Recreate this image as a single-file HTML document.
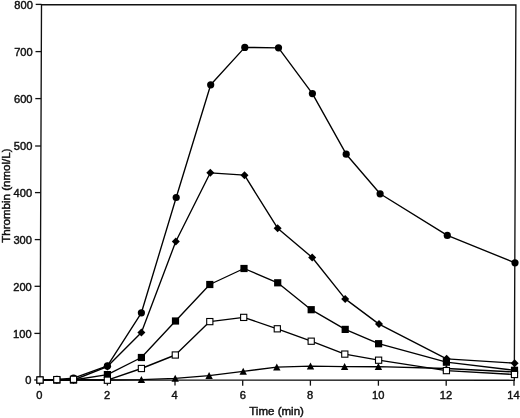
<!DOCTYPE html>
<html><head><meta charset="utf-8"><style>
html,body{margin:0;padding:0;background:#fff;}
body{width:520px;height:418px;overflow:hidden;}
svg{display:block;will-change:transform;}
text{font-family:"Liberation Sans",sans-serif;fill:#111;stroke:#111;stroke-width:0.45px;}
.tk{font-size:11.7px;}
.tt{font-size:11.55px;}
</style></head><body>
<svg width="520" height="418" viewBox="0 0 520 418">
<rect x="0" y="0" width="520" height="418" fill="#fff"/>
<path d="M41.5,4.6 L515.9,5.0 L514.3,380.3 L40.0,380.0 Z" fill="none" stroke="#111" stroke-width="1.35" stroke-linejoin="miter"/>
<line x1="34.20" y1="380.0" x2="40.00" y2="380.0" stroke="#111" stroke-width="1.3"/>
<text class="tk" transform="translate(31.40,384.35) scale(0.95,1)" text-anchor="end">0</text>
<line x1="34.39" y1="333.4" x2="40.19" y2="333.4" stroke="#111" stroke-width="1.3"/>
<text class="tk" transform="translate(31.59,337.75) scale(0.95,1)" text-anchor="end">100</text>
<line x1="34.57" y1="286.3" x2="40.37" y2="286.3" stroke="#111" stroke-width="1.3"/>
<text class="tk" transform="translate(31.77,290.65) scale(0.95,1)" text-anchor="end">200</text>
<line x1="34.76" y1="239.6" x2="40.56" y2="239.6" stroke="#111" stroke-width="1.3"/>
<text class="tk" transform="translate(31.96,243.95) scale(0.95,1)" text-anchor="end">300</text>
<line x1="34.95" y1="192.6" x2="40.75" y2="192.6" stroke="#111" stroke-width="1.3"/>
<text class="tk" transform="translate(32.15,196.95) scale(0.95,1)" text-anchor="end">400</text>
<line x1="35.14" y1="146.0" x2="40.94" y2="146.0" stroke="#111" stroke-width="1.3"/>
<text class="tk" transform="translate(32.34,150.35) scale(0.95,1)" text-anchor="end">500</text>
<line x1="35.32" y1="98.6" x2="41.12" y2="98.6" stroke="#111" stroke-width="1.3"/>
<text class="tk" transform="translate(32.52,102.95) scale(0.95,1)" text-anchor="end">600</text>
<line x1="35.51" y1="51.6" x2="41.31" y2="51.6" stroke="#111" stroke-width="1.3"/>
<text class="tk" transform="translate(32.71,55.95) scale(0.95,1)" text-anchor="end">700</text>
<line x1="35.70" y1="4.4" x2="41.50" y2="4.4" stroke="#111" stroke-width="1.3"/>
<text class="tk" transform="translate(32.90,8.75) scale(0.95,1)" text-anchor="end">800</text>
<line x1="39.6" y1="380.00" x2="39.6" y2="385.50" stroke="#111" stroke-width="1.3"/>
<text class="tk" transform="translate(39.4,398.9) scale(0.95,1)" text-anchor="middle">0</text>
<line x1="107.4" y1="380.04" x2="107.4" y2="385.54" stroke="#111" stroke-width="1.3"/>
<text class="tk" transform="translate(107.0,398.9) scale(0.95,1)" text-anchor="middle">2</text>
<line x1="175" y1="380.09" x2="175" y2="385.59" stroke="#111" stroke-width="1.3"/>
<text class="tk" transform="translate(174.7,398.9) scale(0.95,1)" text-anchor="middle">4</text>
<line x1="242.7" y1="380.13" x2="242.7" y2="385.63" stroke="#111" stroke-width="1.3"/>
<text class="tk" transform="translate(242.8,398.9) scale(0.95,1)" text-anchor="middle">6</text>
<line x1="310.4" y1="380.17" x2="310.4" y2="385.67" stroke="#111" stroke-width="1.3"/>
<text class="tk" transform="translate(310.1,398.9) scale(0.95,1)" text-anchor="middle">8</text>
<line x1="378.4" y1="380.21" x2="378.4" y2="385.71" stroke="#111" stroke-width="1.3"/>
<text class="tk" transform="translate(378.2,398.9) scale(0.95,1)" text-anchor="middle">10</text>
<line x1="446.2" y1="380.26" x2="446.2" y2="385.76" stroke="#111" stroke-width="1.3"/>
<text class="tk" transform="translate(446.0,398.9) scale(0.95,1)" text-anchor="middle">12</text>
<line x1="514.0" y1="380.30" x2="514.0" y2="385.80" stroke="#111" stroke-width="1.3"/>
<text class="tk" transform="translate(513.4,398.9) scale(0.95,1)" text-anchor="middle">14</text>
<text class="tt" x="276.6" y="414.7" text-anchor="middle">Time (min)</text>
<text transform="translate(9.9,195.6) rotate(-90)" class="tt" text-anchor="middle">Thrombin (nmol/L)</text>
<polyline points="40.0,380.0 56.9,379.4 73.5,378.1 107.4,365.9 141.4,312.8 176.2,197.5 210.7,84.8 244.8,47.4 278.5,47.8 312.4,93.6 346.2,154.2 380.1,193.8 447.3,235.4 515.0,262.8" fill="none" stroke="#000" stroke-width="1.35" stroke-linejoin="round"/>
<polyline points="40.0,380.0 56.8,380.0 73.5,380.0 107.4,366.6 141.4,332.4 175.8,241.5 210.3,172.8 244.5,175.2 277.6,228.2 312.2,257.5 345.2,298.9 379.0,324.1 446.6,358.8 514.6,363.2" fill="none" stroke="#000" stroke-width="1.35" stroke-linejoin="round"/>
<polyline points="40.0,380.0 56.8,380.0 73.5,380.0 107.4,374.6 141.4,357.5 175.5,321.0 209.8,284.5 244.0,268.5 277.7,282.8 311.2,309.7 345.2,329.4 378.6,343.7 446.4,362.2 514.5,370.3" fill="none" stroke="#000" stroke-width="1.35" stroke-linejoin="round"/>
<polyline points="40.0,380.0 56.8,379.6 73.5,379.3 107.4,380.2 141.4,368.5 175.3,355.0 209.8,321.6 243.7,317.4 277.3,328.8 311.2,341.2 344.8,354.1 378.6,360.2 446.4,370.6 514.5,374.5" fill="none" stroke="#000" stroke-width="1.35" stroke-linejoin="round"/>
<polyline points="40.0,380.0 56.8,380.0 73.5,380.0 107.4,380.0 141.4,379.6 175.2,378.4 209.1,375.7 243.2,371.4 276.8,367.2 310.5,366.2 344.6,366.7 378.4,366.7 446.4,368.5 514.5,372.0" fill="none" stroke="#000" stroke-width="1.35" stroke-linejoin="round"/>
<circle cx="40" cy="380" r="3.6" fill="#000"/>
<circle cx="56.9" cy="379.4" r="3.6" fill="#000"/>
<circle cx="73.5" cy="378.1" r="3.6" fill="#000"/>
<circle cx="107.4" cy="365.9" r="3.6" fill="#000"/>
<circle cx="141.4" cy="312.8" r="3.6" fill="#000"/>
<circle cx="176.2" cy="197.5" r="3.6" fill="#000"/>
<circle cx="210.7" cy="84.8" r="3.6" fill="#000"/>
<circle cx="244.8" cy="47.4" r="3.6" fill="#000"/>
<circle cx="278.5" cy="47.8" r="3.6" fill="#000"/>
<circle cx="312.4" cy="93.6" r="3.6" fill="#000"/>
<circle cx="346.2" cy="154.2" r="3.6" fill="#000"/>
<circle cx="380.1" cy="193.8" r="3.6" fill="#000"/>
<circle cx="447.3" cy="235.4" r="3.6" fill="#000"/>
<circle cx="515" cy="262.8" r="3.6" fill="#000"/>
<path d="M40,376.0 L44.0,380 L40,384.0 L36.0,380 Z" fill="#000"/>
<path d="M56.8,376.0 L60.8,380 L56.8,384.0 L52.8,380 Z" fill="#000"/>
<path d="M73.5,376.0 L77.5,380 L73.5,384.0 L69.5,380 Z" fill="#000"/>
<path d="M107.4,362.6 L111.4,366.6 L107.4,370.6 L103.4,366.6 Z" fill="#000"/>
<path d="M141.4,328.4 L145.4,332.4 L141.4,336.4 L137.4,332.4 Z" fill="#000"/>
<path d="M175.8,237.5 L179.8,241.5 L175.8,245.5 L171.8,241.5 Z" fill="#000"/>
<path d="M210.3,168.8 L214.3,172.8 L210.3,176.8 L206.3,172.8 Z" fill="#000"/>
<path d="M244.5,171.2 L248.5,175.2 L244.5,179.2 L240.5,175.2 Z" fill="#000"/>
<path d="M277.6,224.2 L281.6,228.2 L277.6,232.2 L273.6,228.2 Z" fill="#000"/>
<path d="M312.2,253.5 L316.2,257.5 L312.2,261.5 L308.2,257.5 Z" fill="#000"/>
<path d="M345.2,294.9 L349.2,298.9 L345.2,302.9 L341.2,298.9 Z" fill="#000"/>
<path d="M379,320.1 L383.0,324.1 L379,328.1 L375.0,324.1 Z" fill="#000"/>
<path d="M446.6,354.8 L450.6,358.8 L446.6,362.8 L442.6,358.8 Z" fill="#000"/>
<path d="M514.6,359.2 L518.6,363.2 L514.6,367.2 L510.6,363.2 Z" fill="#000"/>
<rect x="36.4" y="376.4" width="7.2" height="7.2" fill="#000"/>
<rect x="53.199999999999996" y="376.4" width="7.2" height="7.2" fill="#000"/>
<rect x="69.9" y="376.4" width="7.2" height="7.2" fill="#000"/>
<rect x="103.80000000000001" y="371.0" width="7.2" height="7.2" fill="#000"/>
<rect x="137.8" y="353.9" width="7.2" height="7.2" fill="#000"/>
<rect x="171.9" y="317.4" width="7.2" height="7.2" fill="#000"/>
<rect x="206.20000000000002" y="280.9" width="7.2" height="7.2" fill="#000"/>
<rect x="240.4" y="264.9" width="7.2" height="7.2" fill="#000"/>
<rect x="274.09999999999997" y="279.2" width="7.2" height="7.2" fill="#000"/>
<rect x="307.59999999999997" y="306.09999999999997" width="7.2" height="7.2" fill="#000"/>
<rect x="341.59999999999997" y="325.79999999999995" width="7.2" height="7.2" fill="#000"/>
<rect x="375.0" y="340.09999999999997" width="7.2" height="7.2" fill="#000"/>
<rect x="442.79999999999995" y="358.59999999999997" width="7.2" height="7.2" fill="#000"/>
<rect x="510.9" y="366.7" width="7.2" height="7.2" fill="#000"/>
<path d="M40,376.3 L43.7,383.33 L36.3,383.33 Z" fill="#000"/>
<path d="M56.8,376.3 L60.5,383.33 L53.099999999999994,383.33 Z" fill="#000"/>
<path d="M73.5,376.3 L77.2,383.33 L69.8,383.33 Z" fill="#000"/>
<path d="M107.4,376.3 L111.10000000000001,383.33 L103.7,383.33 Z" fill="#000"/>
<path d="M141.4,375.90000000000003 L145.1,382.93 L137.70000000000002,382.93 Z" fill="#000"/>
<path d="M175.2,374.7 L178.89999999999998,381.72999999999996 L171.5,381.72999999999996 Z" fill="#000"/>
<path d="M209.1,372.0 L212.79999999999998,379.03 L205.4,379.03 Z" fill="#000"/>
<path d="M243.2,367.7 L246.89999999999998,374.72999999999996 L239.5,374.72999999999996 Z" fill="#000"/>
<path d="M276.8,363.5 L280.5,370.53 L273.1,370.53 Z" fill="#000"/>
<path d="M310.5,362.5 L314.2,369.53 L306.8,369.53 Z" fill="#000"/>
<path d="M344.6,363.0 L348.3,370.03 L340.90000000000003,370.03 Z" fill="#000"/>
<path d="M378.4,363.0 L382.09999999999997,370.03 L374.7,370.03 Z" fill="#000"/>
<path d="M446.4,364.8 L450.09999999999997,371.83 L442.7,371.83 Z" fill="#000"/>
<path d="M514.5,368.3 L518.2,375.33 L510.8,375.33 Z" fill="#000"/>
<rect x="36.9" y="376.9" width="6.2" height="6.2" fill="#fff" stroke="#000" stroke-width="1.1"/>
<rect x="53.699999999999996" y="376.5" width="6.2" height="6.2" fill="#fff" stroke="#000" stroke-width="1.1"/>
<rect x="70.4" y="376.2" width="6.2" height="6.2" fill="#fff" stroke="#000" stroke-width="1.1"/>
<rect x="104.30000000000001" y="377.09999999999997" width="6.2" height="6.2" fill="#fff" stroke="#000" stroke-width="1.1"/>
<rect x="138.3" y="365.4" width="6.2" height="6.2" fill="#fff" stroke="#000" stroke-width="1.1"/>
<rect x="172.20000000000002" y="351.9" width="6.2" height="6.2" fill="#fff" stroke="#000" stroke-width="1.1"/>
<rect x="206.70000000000002" y="318.5" width="6.2" height="6.2" fill="#fff" stroke="#000" stroke-width="1.1"/>
<rect x="240.6" y="314.29999999999995" width="6.2" height="6.2" fill="#fff" stroke="#000" stroke-width="1.1"/>
<rect x="274.2" y="325.7" width="6.2" height="6.2" fill="#fff" stroke="#000" stroke-width="1.1"/>
<rect x="308.09999999999997" y="338.09999999999997" width="6.2" height="6.2" fill="#fff" stroke="#000" stroke-width="1.1"/>
<rect x="341.7" y="351.0" width="6.2" height="6.2" fill="#fff" stroke="#000" stroke-width="1.1"/>
<rect x="375.5" y="357.09999999999997" width="6.2" height="6.2" fill="#fff" stroke="#000" stroke-width="1.1"/>
<rect x="443.29999999999995" y="367.5" width="6.2" height="6.2" fill="#fff" stroke="#000" stroke-width="1.1"/>
<rect x="511.4" y="371.4" width="6.2" height="6.2" fill="#fff" stroke="#000" stroke-width="1.1"/>
</svg>
</body></html>
